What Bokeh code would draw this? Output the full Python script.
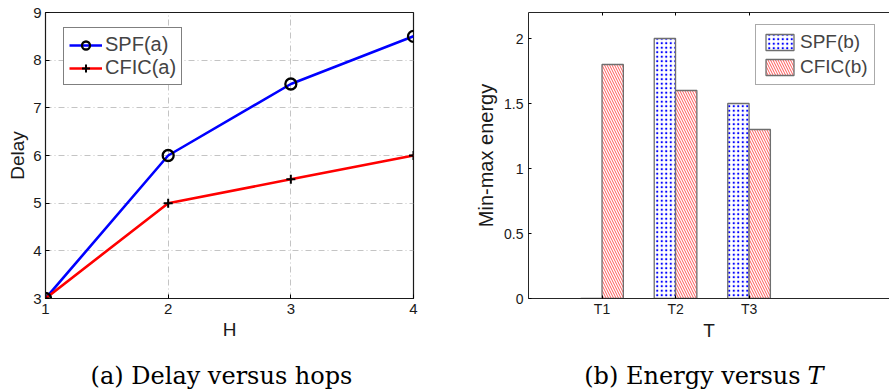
from bokeh.plotting import figure
from bokeh.layouts import column, row
from bokeh.models import (FixedTicker, Legend, LegendItem, Range1d, LinearAxis,
                          ColumnDataSource)
from bokeh.transform import dodge
from bokeh.core.properties import value
from bokeh.embed import file_html
from bokeh.resources import INLINE

# ---------------- data ----------------
hops = [1, 2, 3, 4]
spf_delay = [3, 6, 7.5, 8.5]
cfic_delay = [3, 5, 5.5, 6]
delay_ticks = [3, 4, 5, 6, 7, 8, 9]

tasks = ["T1", "T2", "T3"]
spf_energy = [0, 2.0, 1.5]
cfic_energy = [1.8, 1.6, 1.3]
energy_ticks = [0, 0.5, 1, 1.5, 2]
energy_tick_labels = ["0", "0.5", "1", "1.5", "2"]

caption_a = "(a) Delay versus hops"
caption_b = "(b) Energy versus"
caption_b_var = "T"

SANS = "Liberation Sans"

# ---------------- left: delay vs hops ----------------
p1 = figure(width=470, height=349, x_range=Range1d(1, 4), y_range=Range1d(3, 9),
            output_backend="svg", toolbar_location=None,
            min_border_left=45, min_border_right=57, min_border_top=12,
            min_border_bottom=51)
p1.outline_line_color = "#1a1a1a"
p1.outline_line_alpha = 1
p1.outline_line_width = 1.2
p1.xaxis.ticker = FixedTicker(ticks=hops)
p1.yaxis.ticker = FixedTicker(ticks=delay_ticks)
p1.xaxis.axis_label = "H"
p1.yaxis.axis_label = "Delay"
for ax in (p1.xaxis, p1.yaxis):
    ax.axis_line_color = "#1a1a1a"
    ax.major_tick_in = 4
    ax.major_tick_out = 0
    ax.minor_tick_line_color = None
    ax.major_label_text_font = SANS
    ax.major_label_text_font_size = "15px"
    ax.major_label_text_color = "#1a1a1a"
    ax.axis_label_text_font = SANS
    ax.axis_label_text_font_size = "19px"
    ax.axis_label_text_font_style = "normal"
    ax.axis_label_text_color = "#1a1a1a"
p1.xaxis.major_label_standoff = 5
p1.xaxis.axis_label_standoff = 2
p1.yaxis.major_label_standoff = 4
p1.yaxis.axis_label_standoff = 2
p1.grid.grid_line_color = "#c4c4c4"
p1.grid.grid_line_dash = "6 3 1 3"
p1.grid.grid_line_width = 1

r1 = p1.line(hops, spf_delay, line_color="#0000ff", line_width=2.6)
r2 = p1.line(hops, cfic_delay, line_color="#ff0000", line_width=2.6)
s1 = p1.scatter(hops, spf_delay, marker="circle", size=11, fill_color=None,
                line_color="black", line_width=2.3)
s2 = p1.scatter(hops, cfic_delay, marker="cross", size=9,
                line_color="black", line_width=2)

leg1 = Legend(items=[LegendItem(label="SPF(a)", renderers=[r1, s1]),
                     LegendItem(label="CFIC(a)", renderers=[r2, s2])],
              location=(18, 213), margin=0, padding=5, spacing=0,
              glyph_width=33, glyph_height=20, label_standoff=3,
              label_text_font=SANS, label_text_font_size="20px",
              border_line_color="black", border_line_width=1,
              background_fill_color="white", background_fill_alpha=1)
p1.add_layout(leg1)

# ---------------- right: energy vs T ----------------
pos = list(range(1, len(tasks) + 1))
src = ColumnDataSource(dict(pos=pos, spf=spf_energy, cfic=cfic_energy))

p2 = figure(width=419, height=349, x_range=Range1d(0, 4.91), y_range=Range1d(0, 2.2),
            output_backend="svg", toolbar_location=None,
            min_border_left=58, min_border_right=0, min_border_top=12,
            min_border_bottom=51)
p2.outline_line_color = None
p2.grid.visible = False
p2.xaxis.ticker = FixedTicker(ticks=pos)
p2.xaxis.major_label_overrides = {p: t for p, t in zip(pos, tasks)}
p2.yaxis.ticker = FixedTicker(ticks=energy_ticks)
p2.yaxis.major_label_overrides = {t: l for t, l in zip(energy_ticks, energy_tick_labels)}
p2.xaxis.axis_label = "T"
p2.yaxis.axis_label = "Min-max energy"
for ax in (p2.xaxis, p2.yaxis):
    ax.axis_line_color = "#262626"
    ax.major_tick_in = 3
    ax.major_tick_out = 0
    ax.minor_tick_line_color = None
    ax.major_label_text_font = SANS
    ax.major_label_text_font_size = "14px"
    ax.major_label_text_color = "#1a1a1a"
    ax.axis_label_text_font = SANS
    ax.axis_label_text_font_size = "20px"
    ax.axis_label_text_font_style = "normal"
    ax.axis_label_text_color = "#1a1a1a"
p2.xaxis.axis_label_text_font_size = "19px"
p2.xaxis.major_label_standoff = 2
p2.xaxis.axis_label_standoff = 0
p2.yaxis.major_label_standoff = 5
p2.yaxis.axis_label_standoff = 4

top_axis = LinearAxis(ticker=FixedTicker(ticks=pos), axis_line_color="#262626",
                      major_tick_in=3, major_tick_out=0, minor_tick_line_color=None,
                      major_label_text_font_size="0px", major_label_standoff=0)
top_axis.major_label_overrides = {p: "" for p in pos}
p2.add_layout(top_axis, "above")

b1 = p2.vbar(x=dodge("pos", -0.145, range=p2.x_range), top="spf", width=0.29,
             source=src, fill_color="white", line_color="#6e6e6e", line_width=1.3,
             hatch_pattern="dot", hatch_color="#0000ff", hatch_scale=4.5,
             hatch_weight=1.6)
b2 = p2.vbar(x=dodge("pos", 0.145, range=p2.x_range), top="cfic", width=0.29,
             source=src, fill_color="white", line_color="#6e6e6e", line_width=1.3,
             hatch_pattern="left_diagonal_line", hatch_color="#ff2020",
             hatch_alpha=0.75, hatch_scale=5, hatch_weight=1)

leg2 = Legend(items=[LegendItem(label="SPF(b)", renderers=[b1]),
                     LegendItem(label="CFIC(b)", renderers=[b2])],
              location=(227, 213), margin=0, padding=6, spacing=3,
              glyph_width=35, glyph_height=20, label_standoff=3,
              label_text_font=SANS, label_text_font_size="19px",
              border_line_color="#555555", border_line_width=1,
              background_fill_color="white", background_fill_alpha=1)
p2.add_layout(leg2)

# ---------------- captions ----------------
cap = figure(width=889, height=41, x_range=Range1d(0, 889), y_range=Range1d(0, 41),
             output_backend="svg", toolbar_location=None,
             x_axis_type=None, y_axis_type=None,
             min_border_left=0, min_border_right=0, min_border_top=0,
             min_border_bottom=0)
cap.outline_line_color = None
cap.grid.visible = False
cap.text(x=[221], y=[15], text=[caption_a], text_font=value("DejaVu Serif"),
         text_font_size="24px", text_align="center", text_baseline="alphabetic",
         text_color="black")
cap.text(x=[800], y=[15], text=[caption_b], text_font=value("DejaVu Serif"),
         text_font_size="24px", text_align="right", text_baseline="alphabetic",
         text_color="black")
cap.text(x=[807], y=[15], text=[caption_b_var], text_font=value("DejaVu Serif"),
         text_font_size="24px", text_font_style="italic", text_align="left",
         text_baseline="alphabetic", text_color="black")

layout = column(row(p1, p2), cap)
open("out.html", "w").write(file_html(layout, INLINE))
